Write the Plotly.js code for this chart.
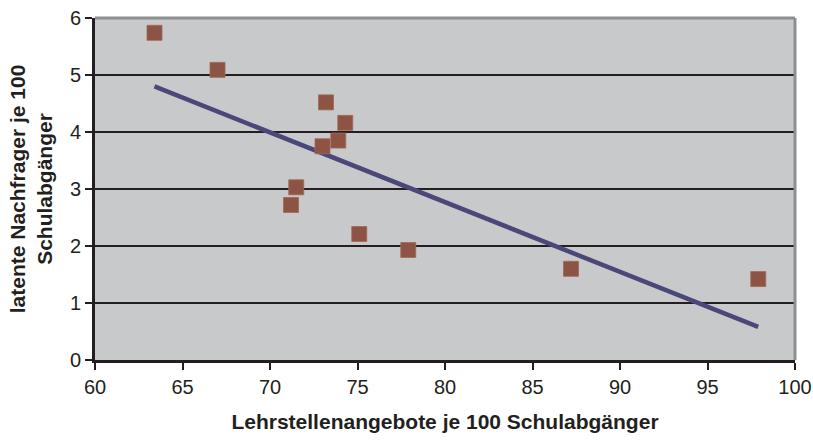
<!DOCTYPE html>
<html>
<head>
<meta charset="utf-8">
<script src="https://cdn.plot.ly/plotly-3.0.1.min.js"></script>
<style>html,body{margin:0;padding:0;background:#fff;}#chart{width:813px;height:443px;}</style>
</head>
<body>
<div id="chart"></div>
<script>
var lehrstellen = [63.4, 67.0, 73.2, 74.3, 73.9, 73.0, 71.5, 71.2, 75.1, 77.9, 87.2, 97.9];
var nachfrager = [5.74, 5.09, 4.52, 4.16, 3.85, 3.75, 3.03, 2.72, 2.21, 1.93, 1.60, 1.42];
var trendX = [63.4, 97.9];
var trendY = [4.80, 0.58];
var xTickVals = [60, 65, 70, 75, 80, 85, 90, 95, 100];
var yTickVals = [0, 1, 2, 3, 4, 5, 6];

var traces = [
  {
    x: trendX, y: trendY, type: 'scatter', mode: 'lines',
    line: {color: '#4a4878', width: 4.5}, hoverinfo: 'skip'
  },
  {
    x: lehrstellen, y: nachfrager, type: 'scatter', mode: 'markers',
    marker: {symbol: 'square', size: 15, color: '#8e5443', line: {color: '#a0685a', width: 0.8}}
  }
];

var layout = {
  width: 813, height: 443,
  margin: {l: 95, r: 18, t: 18, b: 83},
  paper_bgcolor: '#ffffff',
  plot_bgcolor: '#c8c9cb',
  showlegend: false,
  font: {family: 'Liberation Sans, Arial, sans-serif', size: 20, color: '#231f20'},
  xaxis: {
    range: [60, 100], tickvals: xTickVals, ticks: 'outside', ticklen: 7, tickwidth: 2,
    tickcolor: '#231f20', showline: true, linecolor: '#231f20', linewidth: 3,
    showgrid: false, zeroline: false, mirror: false,
    tickfont: {size: 20},
    title: {text: '<b>Lehrstellenangebote je 100 Schulabgänger</b>', font: {size: 21}, standoff: 18}
  },
  yaxis: {
    range: [0, 6], tickvals: yTickVals, ticks: 'outside', ticklen: 7, tickwidth: 2,
    tickcolor: '#231f20', showline: true, linecolor: '#231f20', linewidth: 3,
    showgrid: true, gridcolor: '#231f20', gridwidth: 2.5, zeroline: false,
    tickfont: {size: 20},
    title: {text: '<b>latente Nachfrager je 100<br>Schulabgänger</b>', font: {size: 21}, standoff: 12}
  },
  shapes: [
    {type: 'line', xref: 'paper', yref: 'paper', x0: 0, x1: 1, y0: 1, y1: 1, line: {color: '#8e8f91', width: 3}},
    {type: 'line', xref: 'paper', yref: 'paper', x0: 1, x1: 1, y0: 0, y1: 1, line: {color: '#8e8f91', width: 3}}
  ]
};

Plotly.newPlot('chart', traces, layout, {displayModeBar: false, staticPlot: true});
</script>
</body>
</html>
